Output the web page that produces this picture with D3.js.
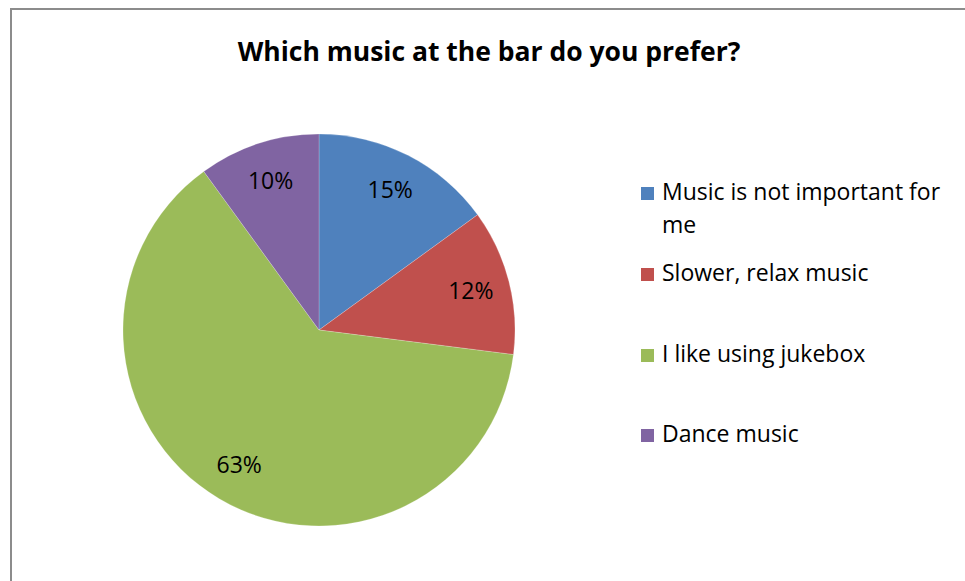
<!DOCTYPE html>
<html lang="en">
<head>
<meta charset="UTF-8">
<title>Which music at the bar do you prefer?</title>
<script src="https://cdn.jsdelivr.net/npm/d3@7"></script>
<style>
  html, body { margin: 0; padding: 0; background: #fff; overflow: hidden; }
  text { font-family: "Open Sans", "Noto Sans", sans-serif; }
  .title { font-weight: bold; font-size: 26.5px; fill: #000; }
  .pct { font-size: 23px; fill: #000; }
  .legend text { font-size: 23px; fill: #000; }
</style>
</head>
<body>
<svg id="chart" width="965" height="581"></svg>
<script>
// data
const categories = ['Music is not important for me', 'Slower, relax music', 'I like using jukebox', 'Dance music']
const shares = [15, 12, 63, 10]
const colors = ['#4F81BD', '#C0504D', '#9BBB59', '#8064A2']
// legend text is wrapped the same way as the original
const legendLines = [['Music is not important for', 'me'], ['Slower, relax music'], ['I like using jukebox'], ['Dance music']]

const svg = d3.select('#chart')

// outer frame (runs off the right and bottom edge)
svg.append('rect')
   .attr('x', 11).attr('y', 9)
   .attr('width', 1000).attr('height', 700)
   .attr('fill', '#fff')
   .attr('stroke', '#8c8c8c')
   .attr('stroke-width', 2)

svg.append('text')
   .attr('class', 'title')
   .attr('x', 489).attr('y', 61)
   .attr('text-anchor', 'middle')
   .text('Which music at the bar do you prefer?')

// pie
const cx = 319, cy = 330, R = 196
const data = categories.map((c, i) => ({ name: c, value: shares[i], color: colors[i] }))

const pie = d3.pie().value(d => d.value).sort(null)
const arc = d3.arc().innerRadius(0).outerRadius(R)
const labelArc = d3.arc().innerRadius(R * 0.8).outerRadius(R * 0.8)

const g = svg.append('g').attr('transform', `translate(${cx},${cy})`)
const arcs = pie(data)

g.selectAll('path')
   .data(arcs)
   .enter()
   .append('path')
   .attr('d', arc)
   .attr('fill', d => d.data.color)
   .attr('stroke', 'rgba(255,255,255,0.35)')
   .attr('stroke-width', 0.6)

g.selectAll('text.pct')
   .data(arcs)
   .enter()
   .append('text')
   .attr('class', 'pct')
   .attr('transform', d => `translate(${labelArc.centroid(d)})`)
   .attr('text-anchor', 'middle')
   .attr('dy', '0.35em')
   .text(d => d3.format('.0%')(d.data.value / d3.sum(shares)))

// legend
const legendY = [200, 281, 362, 442]
const legend = svg.append('g').attr('class', 'legend')
const item = legend.selectAll('g')
   .data(data)
   .enter()
   .append('g')
   .attr('transform', (d, i) => `translate(641, ${legendY[i]})`)

item.append('rect')
   .attr('x', 0).attr('y', -13)
   .attr('width', 13).attr('height', 13)
   .attr('fill', d => d.color)

item.append('text')
   .attr('x', 21)
   .selectAll('tspan')
   .data((d, i) => legendLines[i])
   .enter()
   .append('tspan')
   .attr('x', 21)
   .attr('dy', (d, i) => i === 0 ? 0 : 33)
   .text(d => d)
</script>
</body>
</html>
